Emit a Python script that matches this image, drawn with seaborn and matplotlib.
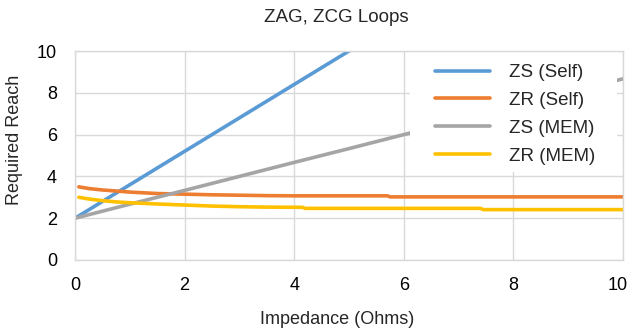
import numpy as np
import pandas as pd
import matplotlib
matplotlib.use("Agg")
import matplotlib.pyplot as plt
import matplotlib.transforms as mtransforms
from matplotlib.patches import Rectangle
import seaborn as sns

# Data
zs_self_x = [0, 1, 2, 3, 4, 5, 6]
zs_self_y = [2.0, 3.6, 5.2, 6.8, 8.4, 10.0, 11.6]

zs_mem_x = [0, 1, 2, 3, 4, 5, 6, 7, 8, 9, 10]
zs_mem_y = [2.0, 2.67, 3.33, 4.0, 4.67, 5.33, 6.0, 6.67, 7.33, 8.0, 8.67]

zr_self_x = [0.07, 0.25, 0.5, 0.75, 1.0, 1.5, 2.0, 2.5, 3.0, 3.5, 4.0, 5.0, 5.7, 5.75, 7.0, 8.0, 9.0, 10.0]
zr_self_y = [3.5, 3.42, 3.35, 3.3, 3.25, 3.18, 3.15, 3.12, 3.1, 3.08, 3.07, 3.07, 3.07, 3.02, 3.02, 3.02, 3.02, 3.02]

zr_mem_x = [0.07, 0.25, 0.5, 0.75, 1.0, 1.5, 2.0, 2.5, 3.0, 3.5, 4.15, 4.2, 5.0, 6.0, 7.4, 7.45, 8.0, 9.0, 10.0]
zr_mem_y = [3.0, 2.92, 2.84, 2.78, 2.74, 2.68, 2.63, 2.58, 2.55, 2.53, 2.52, 2.47, 2.47, 2.47, 2.47, 2.41, 2.41, 2.41, 2.41]

series_names = ["ZS (Self)", "ZR (Self)", "ZS (MEM)", "ZR (MEM)"]
series_colors = ["#5B9BD5", "#ED7D31", "#A5A5A5", "#FFC000"]

frames = []
for name, xs, ys in [("ZS (Self)", zs_self_x, zs_self_y),
                     ("ZR (Self)", zr_self_x, zr_self_y),
                     ("ZS (MEM)", zs_mem_x, zs_mem_y),
                     ("ZR (MEM)", zr_mem_x, zr_mem_y)]:
    frames.append(pd.DataFrame({"x": xs, "y": ys, "series": name}))
df = pd.concat(frames, ignore_index=True)

sns.set_theme(style="white")
plt.rcParams["font.family"] = ["Liberation Sans", "DejaVu Sans"]

W, H = 628, 331
fig = plt.figure(figsize=(W / 100, H / 100), dpi=100)
ax = fig.add_axes([75 / W, 1 - 260 / H, 548 / W, 209 / H])

sns.lineplot(data=df, x="x", y="y", hue="series", hue_order=series_names,
             palette=dict(zip(series_names, series_colors)), linewidth=2.6,
             ax=ax, sort=False, estimator=None, legend=True)

ax.set_xlim(0, 10)
ax.set_ylim(0, 10)
ax.set_xticks([0, 2, 4, 6, 8, 10])
ax.set_yticks([0, 2, 4, 6, 8, 10])
ax.grid(True, color="#D9D9D9", linewidth=1.0)
ax.set_axisbelow(True)
for s in ax.spines.values():
    s.set_color("#D9D9D9")
    s.set_linewidth(1.0)
    s.set_zorder(6)
ax.tick_params(axis="x", length=0, labelsize=13, colors="#000000", pad=12)
ax.tick_params(axis="y", length=0, labelsize=13, colors="#000000", pad=13)

fig.canvas.draw()
last = ax.get_xticklabels()[-1]
last.set_transform(last.get_transform() + mtransforms.ScaledTranslation(-5 / 100, 0, fig.dpi_scale_trans))

ax.set_xlabel("Impedance (Ohms)", fontsize=13)
ax.xaxis.label.set_va("center")
ax.xaxis.set_label_coords((337 - 75) / 548, -(320 - 260) / 209)
ax.set_ylabel("Required Reach", fontsize=13)
ax.yaxis.label.set_va("center")
ax.yaxis.label.set_ha("center")
ax.yaxis.set_label_coords((15 - 75) / 548, (260 - 140) / 209)

fig.text(336 / W, 1 - 17 / H, "ZAG, ZCG Loops", ha="center", va="center", fontsize=13.5)

# white legend background area
ax.add_patch(Rectangle((410 / W, 1 - 172 / H), 207 / W, 120 / H,
                       transform=fig.transFigure, facecolor="white",
                       edgecolor="none", zorder=4))

leg = ax.legend(loc="upper left", bbox_to_anchor=(435 / W, 1 - 64 / H),
                bbox_transform=fig.transFigure, frameon=False,
                fontsize=13.5, handlelength=2.95, handletextpad=1.0,
                labelspacing=0.57, borderpad=0, borderaxespad=0)
leg.set_zorder(5)
for h in leg.get_lines():
    h.set_linewidth(2.6)

fig.savefig("out.png", dpi=100)
